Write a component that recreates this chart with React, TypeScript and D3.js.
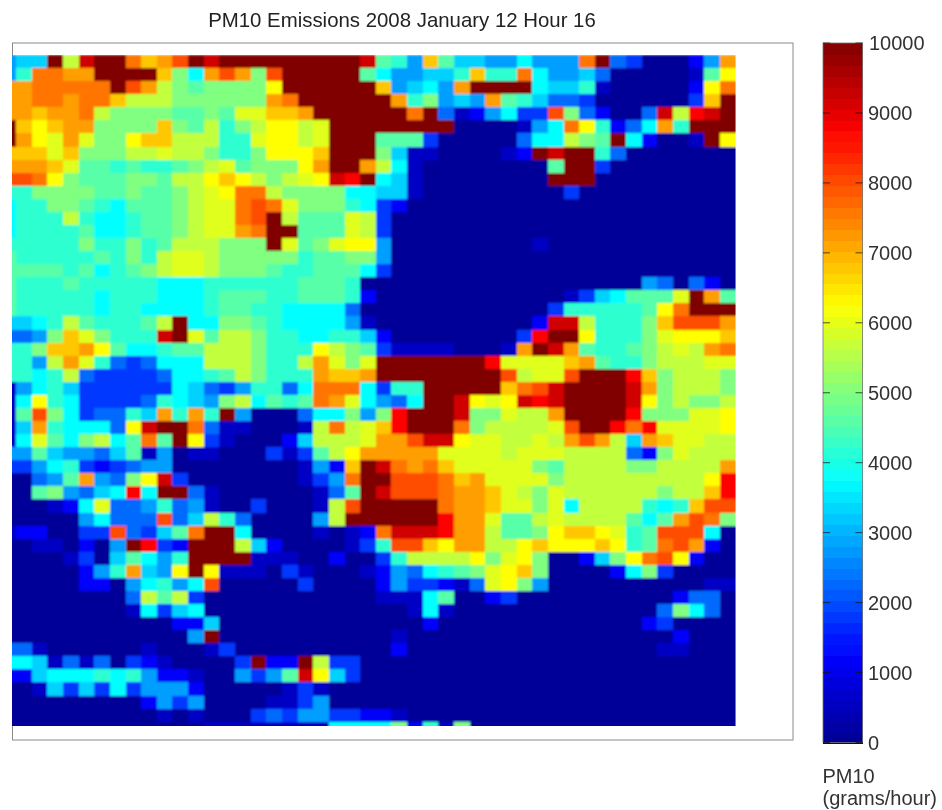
import React from "react";
import * as d3 from "d3";

const titleText = "PM10 Emissions 2008 January 12 Hour 16";
const unitLines = ["PM10", "(grams/hour)"];
const colorbarTicks = [0, 1000, 2000, 3000, 4000, 5000, 6000, 7000, 8000, 9000, 10000];

// Jet colour map (value / 10000)
const jetStops = [0, 1250, 3750, 6250, 8750, 10000];
const jetColors = ["#00008f", "#0000ff", "#00ffff", "#ffff00", "#ff0000", "#800000"];

// Each letter in the grid stands for a value
const levelCodes = "abcdefghijklmnopqrstu".split("");
const levelValues = [100, 600, 1200, 1800, 2300, 2800, 3300, 3750, 4200, 4600, 5000, 5650, 5950, 6250, 6800, 7200, 7600, 8000, 8700, 9200, 10000];

const gridRows = [
  "fggultuuqoprutuuu uuuuuutjifojggf fhfffquedaaacfp",
  "fiqqppuuuuokhprpk ruuuuujhffggioi iqhffgeaaaaabjn",
  "ppqqqqqurplkjkkkk nuuuuuuofghfpuu uuhggibaaaaacnq",
  "ppqqpqqolllkkkkkk pquuuuuupikfgfp jigeedaaaaaadou",
  "ppoppqlkkkkjjkjmm oopuuuuuuquebcf hddrkecaaetlstu",
  "uonoppkkkkokjlikl nnlmuuuuuuuuaaa abfhqnicehpiuuu",
  "upnmpmkknoollliim nnlmuuujjjdaaaa aehhlkjuhcaabun",
  "ooomokkkllmllkiik nnnouuukgbbaaaa bcutuuieaaaaaaa",
  "pppomjjijiijklmjk kknpuuplhbaaaaa aaajuudaaaaaaaa",
  "rrqnkjjjkkjllnonl klmntsuhgbaaaaa aaauuuaaaaaaaaa",
  "iikkkkjjkjjklmnqq lkkkkhhggbaaaaa aaaadaaaaaaaaaa",
  "hiikkjihjjjklmmqr qmkkkihdcaaaaaa aaaaaaaaaaaaaaa",
  "hiiilihhijjklmmqr uljjjmldaaaaaaa aaaaaaaaaaaaaaa",
  "hiiiijhhijjklmmpq uujjjmldaaaaaaa aaaaaaaaaaaaaaa",
  "iiiiikiikijlllkkk umjkmnnfaaaaaaa aabaaaaaaaaaaaa",
  "jiiiiijikilmmlkkk kkijjkkfaaaaaaa aaaaaaaaaaaaaaa",
  "jjjjijhijklmmlkkk jiijjjhdaaaaaaa aaaaaaaaaaaaaaa",
  "jiiijiiiiihhhiiii iijjjiaaaaaaaaa aaaaaaaaafeaeca",
  "jiiiiihiiihhhijjj iijjjicaaaaaaaa aaaabdghjjjmupj",
  "jiiiiihiihhhhijji ihhhheaaaaaaaaa aaadiiiiijnquuu",
  "gghiljiiijluhhkkj ihhhhfbaaaaaaaa aacttliiikorrrp",
  "eefkomkiiitumjllk iihhiigcaaaaaaa adsuuniiikmnnno",
  "iikoopnjhhijjlllk iiinlkjdbbbbaaa bputpjiijklmlpq",
  "iiflpmiedehhhlllk iilpmkmuuuuuuus mmmmopjiiklllmm",
  "iihileddddehhijlk iiipoopuuuuuuuu rlmmruuusoklllk",
  "bfhigddddddhgedfi iehqqqhdiiuuuuu oqrtuuuutpklllk",
  "bhnihddddeihgfklh jijqpmhfehuutnm ntstuuuutnklkkl",
  "bjrkhdeeigpipiufa aaehhkfksuuutkk mllpuuuuskkkmmn",
  "bgpihhhentuuqebba aablqlmosuuuqkl lllmruusqsmmmmn",
  "bhmjhklhjqjundbaa acglllmpprttnmm llmlprplgpommll",
  "ffjgffegjbfabbaaa dbdjlnpppppmmmm lmmmlllleckmlll",
  "ddfhidcdeffaaaaaa aabfcoutqpqommm mmkjllllkkllllp",
  "aaefjpfekntdaaaaa aabdfquurrrqopm mmmklllllllllns",
  "aajkfeghshuuebaaa aaabejutrrrqppo mlkmllllllkllos",
  "aaabchmeefiefbaad aaablruuuuuqppo mmkmhllllihiorr",
  "aaaaafheeeregliea aaafluuuuuusppm jjlmlllljhjprqk",
  "bccaaddredgjquuha aaababcqtttsppl jjknoonmijrrrha",
  "aabbacafusdcuuulg caaaabdirronppl lnonnnonijqrpca",
  "aaaabdagjhfiuuuub bbaacaadillllnk mnkaacgknqrncaa",
  "aaaaacfipgfnunbbb adbaaabcfehijkm nokaaaachkdaaaa",
  "aaaaaccafhifhraaa aadaaaacfddcbem nkfaaaaaaaaaabb",
  "aaaaaaaaeljldaaaa aaaaaaabbbhjaac daaaaaaaaaaceea",
  "aaaaaaaabhdghaaaa aaaaaaaaabhbaaa aaaaaaaaaaekhea",
  "aaaaaaaaaaaccgaaa aaaaaaaaaacaaaa aaaaaaaaacdaaaa",
  "aaaaaaaaaaaafuaaa aaaaaaaabaaaaaa aaaaaaaaaaacaaa",
  "eebaaaaaabaaabdaa aaaaaaaacaaaaaa aaaaaaaaaabbaaa",
  "hhgbebeadcbaaaadu cculddaaaaaaaaa aaaaaaaaaaaaaaa",
  "ccghhhihifccbaafd fjtngdaaaaaaaaa aaaaaaaaaaaaaaa",
  "aabgdgdhdfffcaaaa abdbaaaaaaaaaaa aaaaaaaaaaaaaaa",
  "aaaaaaaaacfdfaaaa bbdfaaaaaaaaaaa aaaaaaaaaaaaaaa",
  "aaaaaaaaaababaaad edffddccbaaaaaa aaaaaaaaaaaaaaa",
  "aaaaaaaaaaaaabbbb bbbbhhhhkcibkaa aaaaaaaaaaaaaaa",
].map((r) => r.replace(/ /g, ""));

const W = 942;
const H = 810;
const box = { left: 12.5, right: 793, top: 43, bottom: 740 };
const plot = { left: 12, right: 735.6, top: 55, bottom: 726 };
const bar = { left: 823, right: 862.5, top: 43, bottom: 742.5 };

const valueOf = d3.scaleOrdinal<string, number>().domain(levelCodes).range(levelValues);
const color = d3.scaleLinear<string>().domain(jetStops).range(jetColors).interpolate(d3.interpolateRgb).clamp(true);

// Columns and rows are indexed so the first column and the last row are cut by the image edges
const xScale = d3.scaleLinear().domain([0.744, 47]).range([plot.left, plot.right]);
const yScale = d3.scaleLinear().domain([0, 51.33]).range([plot.top, plot.bottom]);
const barScale = d3.scaleLinear().domain([0, 10000]).range([bar.bottom, bar.top]);

const FONT = "'Liberation Sans', Arial, sans-serif";
const barLevels = d3.range(64);

export default function App() {
  return (
    <svg
      width={W}
      height={H}
      viewBox={`0 0 ${W} ${H}`}
      style={{ position: "absolute", left: 0, top: 0, background: "#fff" }}
      fontFamily={FONT}
    >
      <defs>
        <clipPath id="plot-clip">
          <rect x={plot.left} y={plot.top} width={plot.right - plot.left} height={plot.bottom - plot.top} />
        </clipPath>
        <filter id="soft" filterUnits="userSpaceOnUse" x="0" y="0" width={W} height={H}>
          <feGaussianBlur stdDeviation="0.9" />
        </filter>
        <filter id="softBar" filterUnits="userSpaceOnUse" x="0" y="0" width={W} height={H}>
          <feGaussianBlur stdDeviation="0.5" />
        </filter>
        <filter id="softText" filterUnits="userSpaceOnUse" x="0" y="0" width={W} height={H}>
          <feGaussianBlur stdDeviation="0.5" />
        </filter>
      </defs>

      <text x={402} y={27.3} textAnchor="middle" fontSize={20.4} fill="#222" filter="url(#softText)">
        {titleText}
      </text>

      <rect
        x={box.left}
        y={box.top}
        width={box.right - box.left}
        height={box.bottom - box.top}
        fill="#fff"
        stroke="#8a8a8a"
        strokeWidth={1}
        filter="url(#softBar)"
      />

      <g clipPath="url(#plot-clip)">
        <g filter="url(#soft)" shapeRendering="crispEdges">
          {gridRows.map((row, r) =>
            row.split("").map((code, c) => (
              <rect
                key={`${r}-${c}`}
                x={xScale(c)}
                y={yScale(r)}
                width={xScale(c + 1) - xScale(c) + 1}
                height={yScale(r + 1) - yScale(r) + 1}
                fill={color(valueOf(code))}
              />
            ))
          )}
        </g>
      </g>

      <g filter="url(#softBar)">
        <g shapeRendering="crispEdges">
          {barLevels.map((i) => {
            const lo = (i / 64) * 10000;
            const hi = ((i + 1) / 64) * 10000;
            return (
              <rect
                key={i}
                x={bar.left}
                y={barScale(hi)}
                width={bar.right - bar.left}
                height={barScale(lo) - barScale(hi) + 1}
                fill={color((lo + hi) / 2)}
              />
            );
          })}
        </g>
        <rect
          x={bar.left}
          y={bar.top}
          width={bar.right - bar.left}
          height={bar.bottom - bar.top}
          fill="none"
          stroke="#777"
          strokeWidth={0.8}
        />
        {colorbarTicks.map((t) => (
          <g key={t} stroke="#111" strokeWidth={0.9} opacity={0.8}>
            <line x1={bar.left} x2={bar.left + 7} y1={barScale(t)} y2={barScale(t)} />
            <line x1={bar.right - 7} x2={bar.right} y1={barScale(t)} y2={barScale(t)} />
          </g>
        ))}
      </g>
      <g filter="url(#softText)">
        {colorbarTicks.map((t) => (
          <text key={t} x={t === 10000 ? 869 : 868} y={barScale(t) + 7} fontSize={20} fill="#333">
            {t}
          </text>
        ))}
        {unitLines.map((line, i) => (
          <text key={line} x={822.5} y={783 + i * 22} fontSize={20} fill="#333">
            {line}
          </text>
        ))}
      </g>
    </svg>
  );
}
